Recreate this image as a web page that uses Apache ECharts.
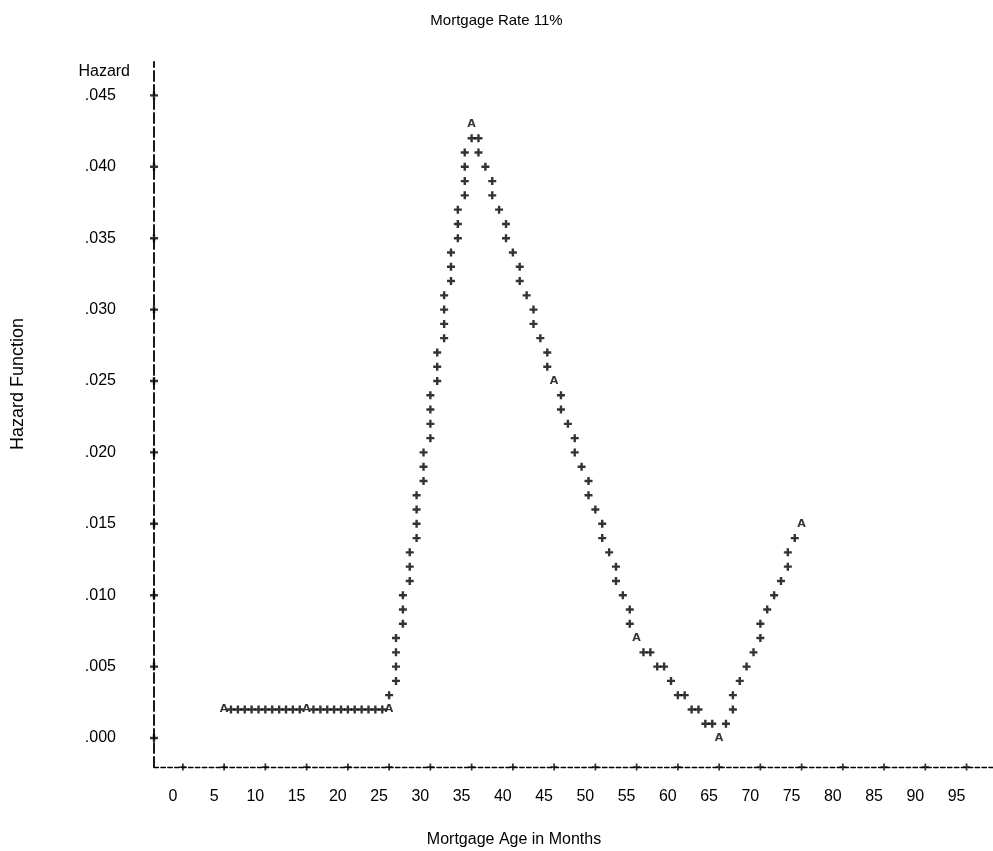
<!DOCTYPE html>
<html>
<head>
<meta charset="utf-8">
<title>Mortgage Rate 11%</title>
<script src="https://cdn.jsdelivr.net/npm/echarts@6/dist/echarts.min.js"></script>
<style>
  html, body { margin: 0; padding: 0; background: #fff; }
  #chart { width: 993px; height: 851px; }
</style>
</head>
<body>
<div id="chart"></div>
<script>
// Axis tick values
const ageTicks = [0, 5, 10, 15, 20, 25, 30, 35, 40, 45, 50, 55, 60, 65, 70, 75, 80, 85, 90, 95];
const hazardTicks = [0, 0.005, 0.010, 0.015, 0.020, 0.025, 0.030, 0.035, 0.040, 0.045];

// Observed hazard points (plotted with "A")
const pointAge = [5, 15, 25, 35, 45, 55, 65, 75];
const pointHazard = [0.002, 0.002, 0.002, 0.043, 0.025, 0.007, 0.000, 0.015];

// Printer-plot trace of the hazard curve (plotted with "+")
const plusAge = [
  5.83, 6.67, 7.5, 8.33, 9.17, 10, 10.83, 11.67, 12.5, 13.33, 14.17,
  15.83, 16.67, 17.5, 18.33, 19.17, 20, 20.83, 21.67, 22.5, 23.33, 24.17,
  25, 25.83, 25.83, 25.83, 25.83, 26.67, 26.67, 26.67, 27.5, 27.5, 27.5,
  28.33, 28.33, 28.33, 28.33, 29.17, 29.17, 29.17, 30, 30, 30, 30,
  30.83, 30.83, 30.83, 31.67, 31.67, 31.67, 31.67, 32.5, 32.5, 32.5,
  33.33, 33.33, 33.33, 34.17, 34.17, 34.17, 34.17, 35, 35.83, 35.83,
  36.67, 37.5, 37.5, 38.33, 39.17, 39.17, 40, 40.83, 40.83, 41.67,
  42.5, 42.5, 43.33, 44.17, 44.17,
  45.83, 45.83, 46.67, 47.5, 47.5, 48.33, 49.17, 49.17, 50, 50.83, 50.83,
  51.67, 52.5, 52.5, 53.33, 54.17, 54.17,
  55.83, 56.67, 57.5, 58.33, 59.17, 60, 60.83, 61.67, 62.5, 63.33, 64.17, 65.83,
  66.67, 66.67, 67.5, 68.33, 69.17, 70, 70, 70.83, 71.67, 72.5, 73.33, 73.33, 74.17
];
const plusHazard = [
  0.002, 0.002, 0.002, 0.002, 0.002, 0.002, 0.002, 0.002, 0.002, 0.002, 0.002,
  0.002, 0.002, 0.002, 0.002, 0.002, 0.002, 0.002, 0.002, 0.002, 0.002, 0.002,
  0.003, 0.004, 0.005, 0.006, 0.007, 0.008, 0.009, 0.010, 0.011, 0.012, 0.013,
  0.014, 0.015, 0.016, 0.017, 0.018, 0.019, 0.020, 0.021, 0.022, 0.023, 0.024,
  0.025, 0.026, 0.027, 0.028, 0.029, 0.030, 0.031, 0.032, 0.033, 0.034,
  0.035, 0.036, 0.037, 0.038, 0.039, 0.040, 0.041, 0.042, 0.042, 0.041,
  0.040, 0.039, 0.038, 0.037, 0.036, 0.035, 0.034, 0.033, 0.032, 0.031,
  0.030, 0.029, 0.028, 0.027, 0.026,
  0.024, 0.023, 0.022, 0.021, 0.020, 0.019, 0.018, 0.017, 0.016, 0.015, 0.014,
  0.013, 0.012, 0.011, 0.010, 0.009, 0.008,
  0.006, 0.006, 0.005, 0.005, 0.004, 0.003, 0.003, 0.002, 0.002, 0.001, 0.001, 0.001,
  0.002, 0.003, 0.004, 0.005, 0.006, 0.007, 0.008, 0.009, 0.010, 0.011, 0.012, 0.013, 0.014
];

// Axis extents (the axes cross below and left of the zero row / column)
const ageMin = -3.5, ageMax = 98.2;
const hazardMin = -0.00203, hazardMax = 0.04734;

const FONT = '"Liberation Sans", Arial, Helvetica, sans-serif';
// Bold printer-style plus sign
const PLUS = 'path://M2.8,0H5.2V2.8H8V5.2H5.2V8H2.8V5.2H0V2.8H2.8Z';
const TICK_PLUS = 'path://M3,0H5V3H8V5H5V8H3V5H0V3H3Z';

const chart = echarts.init(document.getElementById('chart'), null, { renderer: 'canvas' });

chart.setOption({
  backgroundColor: '#ffffff',
  animation: false,
  title: {
    text: 'Mortgage Rate 11%',
    left: 'center',
    top: 8,
    textStyle: { fontFamily: FONT, fontSize: 15, fontWeight: 'normal', color: '#000' }
  },
  graphic: [
    {
      type: 'text',
      style: { text: 'Hazard', x: 130, y: 72, align: 'right', verticalAlign: 'middle',
               font: '16px ' + FONT, fill: '#000' }
    },
    {
      type: 'text',
      x: 18, y: 384, rotation: Math.PI / 2,
      style: { text: 'Hazard Function', x: 0, y: 0, align: 'center', verticalAlign: 'middle',
               font: '18px ' + FONT, fill: '#000' }
    },
    {
      type: 'text',
      style: { text: 'Mortgage Age in Months', x: 514, y: 840, align: 'center', verticalAlign: 'middle',
               font: '16px ' + FONT, fill: '#000' }
    }
  ],
  grid: { left: 154, right: 0, top: 62, bottom: 84 },
  xAxis: {
    type: 'value',
    min: ageMin,
    max: ageMax,
    splitLine: { show: false },
    axisTick: { show: false },
    axisLine: { show: true, onZero: false,
      lineStyle: { color: '#000', width: 1.3, type: [4.5, 2.4] } },
    axisLabel: {
      customValues: ageTicks,
      margin: 22,
      padding: [0, 20, 0, 0],
      fontFamily: FONT, fontSize: 16, color: '#000'
    }
  },
  yAxis: {
    type: 'value',
    min: hazardMin,
    max: hazardMax,
    splitLine: { show: false },
    axisTick: { show: false },
    axisLine: { show: true, onZero: false,
      lineStyle: { color: '#000', width: 1.8, type: [10, 4] } },
    axisLabel: {
      customValues: hazardTicks,
      margin: 38,
      padding: [18, 0, 0, 0],
      fontFamily: FONT, fontSize: 16, color: '#000',
      formatter: v => v.toFixed(3).replace(/^0/, '')
    }
  },
  series: [
    {
      name: 'axis ticks (age)',
      type: 'scatter',
      clip: false,
      symbol: TICK_PLUS,
      symbolSize: 7,
      itemStyle: { color: '#000' },
      data: ageTicks.map(m => [m, hazardMin]),
      silent: true
    },
    {
      name: 'axis ticks (hazard)',
      type: 'scatter',
      clip: false,
      symbol: PLUS,
      symbolSize: 8,
      itemStyle: { color: '#000' },
      data: hazardTicks.map(v => [ageMin, v]),
      silent: true
    },
    {
      name: 'hazard trace',
      type: 'scatter',
      symbol: PLUS,
      symbolSize: 8,
      itemStyle: { color: '#000' },
      data: plusAge.map((a, i) => [a, plusHazard[i]])
    },
    {
      name: 'hazard points',
      type: 'scatter',
      symbol: 'circle',
      symbolSize: 1,
      itemStyle: { color: 'rgba(0,0,0,0)' },
      label: {
        show: true,
        position: 'inside',
        formatter: 'A',
        fontFamily: '"DejaVu Sans", sans-serif',
        fontWeight: 'bold',
        fontSize: 11,
        color: '#000'
      },
      data: pointAge.map((a, i) => [a, pointHazard[i]])
    }
  ]
});
</script>
</body>
</html>
